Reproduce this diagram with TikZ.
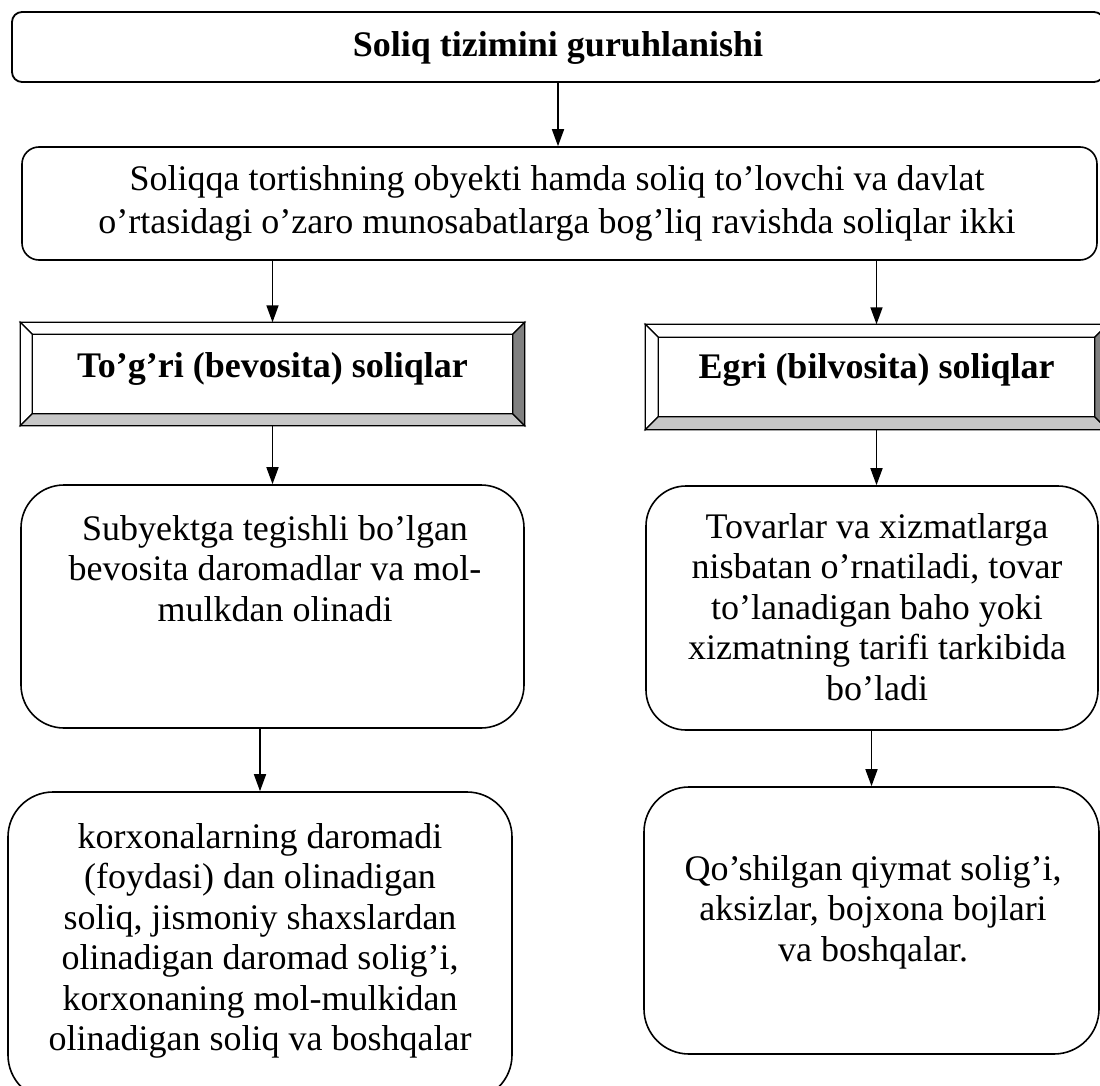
\documentclass[tikz,border=0pt]{standalone}
\usepackage{fontspec}
\setmainfont{Liberation Serif}
\usetikzlibrary{arrows.meta,calc}
\begin{document}
\begin{tikzpicture}[x=1pt,y=-1pt,
  txt/.style={font=\fontsize{36}{40.5}\selectfont, inner sep=0pt, align=center},
  rbox/.style={draw, line width=1.6pt, minimum width=#1, inner sep=0pt},
  arr/.style={line width=1.6pt, -{Triangle[length=17pt,width=12pt]}},
  bev/.style={draw, line width=1.4pt, inner sep=0pt},
  bevlight/.style={fill=white, draw, line width=1.2pt},
  bevgray/.style={fill=black!22, draw, line width=1.2pt},
  bevdark/.style={fill=black!50, draw, line width=1.2pt}]
\useasboundingbox (0,0) rectangle (1100,1086);
\clip (0,0) rectangle (1100,1086);

% top box
\node[rbox=1092pt, minimum height=70pt, rounded corners=10pt, line width=1.8pt] (top) at (558,47) {};
\node[txt, anchor=base, font=\fontsize{36}{40.5}\selectfont\bfseries] (toptxt) at (558,57) {Soliq tizimini guruhlanishi};

% second box
\node[rbox=1075pt, minimum height=113pt, rounded corners=17pt] (b2) at (559.5,203.5) {};
\node[txt, anchor=north, font=\fontsize{36}{43}\selectfont] (b2txt) at (557,165) {Soliqqa tortishning obyekti hamda soliq to’lovchi va davlat\\o’rtasidagi o’zaro munosabatlarga bog’liq ravishda soliqlar ikki};

% bevel boxes
\node[bev, minimum width=503pt, minimum height=102pt] (bevL) at (272.5,374) {};
\node[bev, minimum width=461pt, minimum height=104pt] (bevR) at (876.5,377) {};
\foreach \b/\d in {bevL/12, bevR/13}{
  \coordinate (\b-inw) at ($(\b.north west)+(\d,\d)$);
  \coordinate (\b-ine) at ($(\b.north east)+(-\d,\d)$);
  \coordinate (\b-isw) at ($(\b.south west)+(\d,-\d)$);
  \coordinate (\b-ise) at ($(\b.south east)+(-\d,-\d)$);
  \draw[bevlight] (\b.north west) -- (\b.north east) -- (\b-ine) -- (\b-inw) -- cycle;
  \draw[bevlight] (\b.north west) -- (\b-inw) -- (\b-isw) -- (\b.south west) -- cycle;
  \draw[bevgray] (\b-isw) -- (\b-ise) -- (\b.south east) -- (\b.south west) -- cycle;
  \draw[bevdark] (\b-ine) -- (\b.north east) -- (\b.south east) -- (\b-ise) -- cycle;
  \draw[line width=1.4pt] (\b.north west) rectangle (\b.south east);
}
\node[txt, anchor=base, font=\fontsize{36}{40.5}\selectfont\bfseries] (bevLtxt) at (272.5,377) {To’g’ri (bevosita) soliqlar};
\node[txt, anchor=base, font=\fontsize{36}{40.5}\selectfont\bfseries] (bevRtxt) at (876.5,378) {Egri (bilvosita) soliqlar};

% third row
\node[rbox=503pt, minimum height=243pt, rounded corners=43pt] (b3L) at (272.5,606.5) {};
\node[txt, anchor=north] (b3Ltxt) at (275,515) {Subyektga tegishli bo’lgan\\bevosita daromadlar va mol-\\mulkdan olinadi};
\node[rbox=452pt, minimum height=244pt, rounded corners=40pt] (b3R) at (872,608) {};
\node[txt, anchor=north] (b3Rtxt) at (877,513) {Tovarlar va xizmatlarga\\nisbatan o’rnatiladi, tovar\\to’lanadigan baho yoki\\xizmatning tarifi tarkibida\\bo’ladi};

% fourth row
\node[rbox=504pt, minimum height=308pt, rounded corners=45pt] (b4L) at (260,946) {};
\node[txt, anchor=north] (b4Ltxt) at (260,823) {korxonalarning daromadi\\(foydasi) dan olinadigan\\soliq, jismoniy shaxslardan\\olinadigan daromad solig’i,\\korxonaning mol-mulkidan\\olinadigan soliq va boshqalar};
\node[rbox=455pt, minimum height=267pt, rounded corners=45pt] (b4R) at (871.5,920.5) {};
\node[txt, anchor=north] (b4Rtxt) at (873,855) {Qo’shilgan qiymat solig’i,\\aksizlar, bojxona bojlari\\va boshqalar.};

% arrows
\draw[arr] (top.south) -- (top.south |- b2.north);
\draw[arr] (b2.south -| bevL.north) -- (bevL.north);
\draw[arr] (b2.south -| bevR.north) -- (bevR.north);
\draw[arr] (bevL.south) -- (b3L.north);
\draw[arr] (bevR.south) -- (bevR.south |- b3R.north);
\draw[arr] (b3L.south -| b4L.north) -- (b4L.north);
\draw[arr] (b3R.south -| b4R.north) -- (b4R.north);
\end{tikzpicture}
\end{document}
